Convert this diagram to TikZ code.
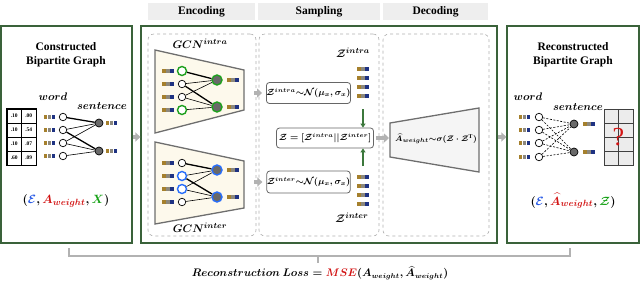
\documentclass[tikz,border=0pt]{standalone}
\usepackage{amsmath}
\usepackage{fontspec}
\setmainfont{Liberation Serif}
\usetikzlibrary{arrows.meta,calc}
\definecolor{boxgreen}{RGB}{58,98,58}
\definecolor{hdrgray}{RGB}{238,238,238}
\definecolor{dashgray}{RGB}{175,175,175}
\definecolor{trapgray}{RGB}{110,110,110}
\definecolor{cream}{RGB}{253,249,236}
\definecolor{fgold}{RGB}{165,128,45}
\definecolor{fgray}{RGB}{140,136,125}
\definecolor{fnavy}{RGB}{30,50,130}
\definecolor{ringgreen}{RGB}{30,160,30}
\definecolor{ringblue}{RGB}{40,110,250}
\definecolor{sgray}{RGB}{105,105,105}
\definecolor{arrgray}{RGB}{178,178,178}
\definecolor{darrgreen}{RGB}{60,120,60}
\definecolor{myred}{RGB}{210,20,20}
\definecolor{myblue}{RGB}{40,90,230}
\definecolor{mygreen}{RGB}{20,160,20}
\definecolor{cellgray}{RGB}{236,236,236}
\begin{document}
\begin{tikzpicture}[x=1pt,y=-1pt,
  gbox/.style={draw=boxgreen,line width=1.2pt,inner sep=0pt},
  hdr/.style={fill=hdrgray,inner sep=0pt,font=\bfseries\fontsize{11.5}{13}\selectfont},
  dbox/.style={draw=dashgray,dashed,line width=0.6pt,rounded corners=6pt,inner sep=0pt},
  ttl/.style={align=center,font=\bfseries\fontsize{11.5}{14}\selectfont},
  mlab/.style={font=\boldmath\fontsize{11}{13}\selectfont,inner sep=0pt},
  wnode/.style={circle,draw,fill=white,minimum size=7.5pt,inner sep=0pt,line width=0.7pt},
  snode/.style={circle,draw,fill=sgray,minimum size=8pt,inner sep=0pt,line width=0.7pt},
  gring/.style={draw=ringgreen,line width=1.4pt,minimum size=9pt},
  bring/.style={draw=ringblue,line width=1.4pt,minimum size=9pt},
  thn/.style={line width=0.6pt},
  thk/.style={line width=1.3pt},
  dsh/.style={line width=0.6pt,dash pattern=on 2pt off 1.5pt},
  cell/.style={draw,minimum width=14.5pt,minimum height=14pt,inner sep=0pt,line width=0.5pt,font=\bfseries\fontsize{5.5}{6}\selectfont},
  gcell/.style={draw=black!75,fill=cellgray,minimum width=14.5pt,minimum height=14pt,inner sep=0pt,line width=0.6pt},
  fat/.style={draw=arrgray,line width=3.5pt,-{Triangle[length=5pt,width=9pt]}},
  garr/.style={draw=darrgreen,line width=1.3pt,-{Triangle[length=4pt,width=5pt]}},
  sbox/.style={draw=black!60,rounded corners=3pt,line width=0.8pt,inner sep=0pt,font=\boldmath\fontsize{9}{10}\selectfont},
  feat/.pic={
    \fill[fgold] (-5.6,-1.7) rectangle (-2.2,1.7);
    \fill[fgray] (-1.7,-1.7) rectangle (1.7,1.7);
    \fill[fnavy] (2.2,-1.7) rectangle (5.6,1.7);
  }]
\useasboundingbox (0,0) rectangle (640,282);

% headers
\node[hdr,minimum width=107pt,minimum height=17pt] (hEnc) at (201.5,11.5) {Encoding};
\node[hdr,minimum width=122pt,minimum height=17pt] (hSam) at (319,11.5) {Sampling};
\node[hdr,minimum width=105pt,minimum height=17pt] (hDec) at (435.5,11.5) {Decoding};

% outer boxes
\node[gbox,minimum width=131pt,minimum height=217pt] (left) at (66.5,134.5) {};
\node[gbox,minimum width=356pt,minimum height=217pt] (mid) at (319,134.5) {};
\node[gbox,minimum width=132pt,minimum height=217pt] (right) at (573,134.5) {};

% dashed inner boxes
\node[dbox,minimum width=108pt,minimum height=202pt] (enc) at (202,135) {};
\node[dbox,minimum width=120pt,minimum height=202pt] (samp) at (319,135) {};
\node[dbox,minimum width=106pt,minimum height=202pt] (dec) at (436,135) {};

% ---------- left box ----------
\node[ttl] (ltitle) at (66,55) {Constructed\\Bipartite Graph};
\node[mlab] (lword) at (53,97) {$word$};
\node[mlab] (lsent) at (102,106) {$sentence$};
\foreach \r/\a/\b in {0/.10/.00,1/.10/.54,2/.10/.07,3/.60/.09}{
  \node[cell] (ma\r) at (14.25,{116+14*\r}) {\a};
  \node[cell] (mb\r) at (28.75,{116+14*\r}) {\b};
}
\draw[line width=0.9pt] (ma0.north west) rectangle (mb3.south east);
\foreach \i/\y in {1/117,2/130,3/143,4/156}{
  \node[wnode] (lw\i) at (63,\y) {};
  \pic at (49.5,\y) {feat};
}
\node[snode] (ls1) at (99,123) {};
\node[snode] (ls2) at (99,151) {};
\pic at (111.5,123) {feat};
\pic at (111.5,151) {feat};
\draw[thk] (lw1) -- (ls1);
\draw[thn] (lw2) -- (ls1);
\draw[thk] (lw2) -- (ls2);
\draw[thn] (lw3) -- (ls1);
\draw[thn] (lw3) -- (ls2);
\draw[thn] (lw4) -- (ls2);
\node[font=\boldmath\fontsize{13}{15}\selectfont] (ltup) at (66,201)
  {$(\textcolor{myblue}{\mathcal{E}},\textcolor{myred}{A_{weight}},\textcolor{mygreen}{X})$};

% ---------- encoding ----------
\draw[draw=trapgray,fill=cream,line width=1.3pt] (155,50) -- (244,70) -- (244,110) -- (155,133) -- cycle;
\draw[draw=trapgray,fill=cream,line width=1.3pt] (155,142) -- (244,161) -- (244,208) -- (155,224) -- cycle;
\node[mlab] (gintra) at (200,44) {$GCN^{intra}$};
\node[mlab] (ginter) at (200,228) {$GCN^{inter}$};
% intra graph
\node[wnode,gring] (aw1) at (182,71) {};
\node[wnode] (aw2) at (182,84) {};
\node[wnode] (aw3) at (182,97) {};
\node[wnode,gring] (aw4) at (182,110) {};
\foreach \y in {71,84,97,110}{\pic at (168,\y) {feat};}
\node[snode,gring,minimum size=10pt] (as1) at (217,80) {};
\node[snode,gring,minimum size=10pt] (as2) at (217,107) {};
\pic at (233,80) {feat};
\pic at (233,107) {feat};
\draw[thk] (aw1) -- (as1);
\draw[thn] (aw2) -- (as1);
\draw[thk] (aw2) -- (as2);
\draw[thn] (aw3) -- (as1);
\draw[thn] (aw3) -- (as2);
\draw[thn] (aw4) -- (as2);
% inter graph
\node[wnode] (bw1) at (182,163) {};
\node[wnode,bring] (bw2) at (182,176) {};
\node[wnode,bring] (bw3) at (182,189) {};
\node[wnode] (bw4) at (182,202) {};
\foreach \y in {163,176,189,202}{\pic at (168,\y) {feat};}
\node[snode,bring,minimum size=10pt] (bs1) at (217,170) {};
\node[snode,bring,minimum size=10pt] (bs2) at (217,197) {};
\pic at (233,170) {feat};
\pic at (233,197) {feat};
\draw[thk] (bw1) -- (bs1);
\draw[thn] (bw2) -- (bs1);
\draw[thk] (bw2) -- (bs2);
\draw[thn] (bw3) -- (bs1);
\draw[thn] (bw3) -- (bs2);
\draw[thn] (bw4) -- (bs2);

% ---------- sampling ----------
\node[sbox,minimum width=83pt,minimum height=21pt] (zi) at (308.5,93) {$\mathcal{Z}^{intra}{\sim}\mathcal{N}(\mu_x,\sigma_x)$};
\node[sbox,minimum width=83pt,minimum height=22pt] (zx) at (308.5,182) {$\mathcal{Z}^{inter}{\sim}\mathcal{N}(\mu_x,\sigma_x)$};
\node[sbox,minimum width=97pt,minimum height=20pt] (zz) at (325,138) {$\mathcal{Z}=[\mathcal{Z}^{intra}||\mathcal{Z}^{inter}]$};
\node[mlab] (zilab) at (353,53) {$\mathcal{Z}^{intra}$};
\node[mlab] (zxlab) at (352,218) {$\mathcal{Z}^{inter}$};
\foreach \y in {69,78,87,96,177,186,195,204}{\pic at (363,\y) {feat};}
\coordinate (gi) at (363,109);
\coordinate (gx) at (363,166);
\draw[garr] (gi) -- (gi |- zz.north);
\draw[garr] (gx) -- (gx |- zz.south);

% ---------- decoding ----------
\draw[draw=trapgray,fill=black!4,line width=1.3pt] (390,123) -- (479,108) -- (479,172) -- (390,157) -- cycle;
\coordinate (decL) at (390,138);
\node[font=\boldmath\fontsize{8.3}{10}\selectfont,inner sep=0pt] (dtxt) at (436,139) {$\widehat{A}_{weight}{\sim}\sigma(\mathcal{Z}\cdot\mathcal{Z}^{\mathrm{T}})$};

% ---------- right box ----------
\node[ttl] (rtitle) at (573,55) {Reconstructed\\Bipartite Graph};
\node[mlab] (rword) at (528,97) {$word$};
\node[mlab] (rsent) at (578,107) {$sentence$};
\foreach \i/\y in {1/117,2/130,3/143,4/157}{
  \node[wnode] (rw\i) at (539,\y) {};
  \pic at (524.5,\y) {feat};
}
\node[snode] (rs1) at (574,124) {};
\node[snode] (rs2) at (574,152) {};
\pic at (589,124) {feat};
\pic at (589,152) {feat};
\foreach \i in {1,2,3,4}{\draw[dsh] (rw\i) -- (rs1); \draw[dsh] (rw\i) -- (rs2);}
\foreach \r in {0,1,2,3}{
  \node[gcell] (ga\r) at (611.25,{116+14*\r}) {};
  \node[gcell] (gb\r) at (625.75,{116+14*\r}) {};
}
\node[text=myred,font=\fontsize{26}{26}\selectfont,inner sep=0pt] (qm) at (618.5,137) {?};
\node[font=\boldmath\fontsize{13}{15}\selectfont] (rtup) at (573,201)
  {$(\textcolor{myblue}{\mathcal{E}},\textcolor{myred}{\widehat{A}_{weight}},\textcolor{mygreen}{\mathcal{Z}})$};

% ---------- fat gray arrows ----------
\draw[fat] ($(left.east)+(0,2.5)$) -- ($(mid.west)+(0,2.5)$);
\draw[fat] ($(enc.east |- zi.west)+(-2,0)$) -- ($(zi.west)+(-4,0)$);
\draw[fat] ($(enc.east |- zx.west)+(-2,0)$) -- ($(zx.west)+(-4,0)$);
\draw[fat] ($(zz.east)+(2,0)$) -- ($(decL)+(-1,0)$);
\draw[fat] ($(mid.east)+(0,2.5)$) -- ($(right.west)+(0,2.5)$);

% ---------- bracket and loss ----------
\coordinate (bl) at (69,248);
\coordinate (br) at (570,248);
\coordinate (bm) at (318,256);
\draw[arrgray,line width=1.5pt] (bl) -- (bl |- bm) -- (br |- bm) -- (br);
\draw[arrgray,line width=1.5pt] (bm) -- ++(0,7);
\node[font=\boldmath\fontsize{10.5}{13}\selectfont,inner sep=0pt] (loss) at (320,273)
  {$Reconstruction\ Loss=\textcolor{myred}{MSE}(A_{weight},\widehat{A}_{weight})$};
\end{tikzpicture}
\end{document}
